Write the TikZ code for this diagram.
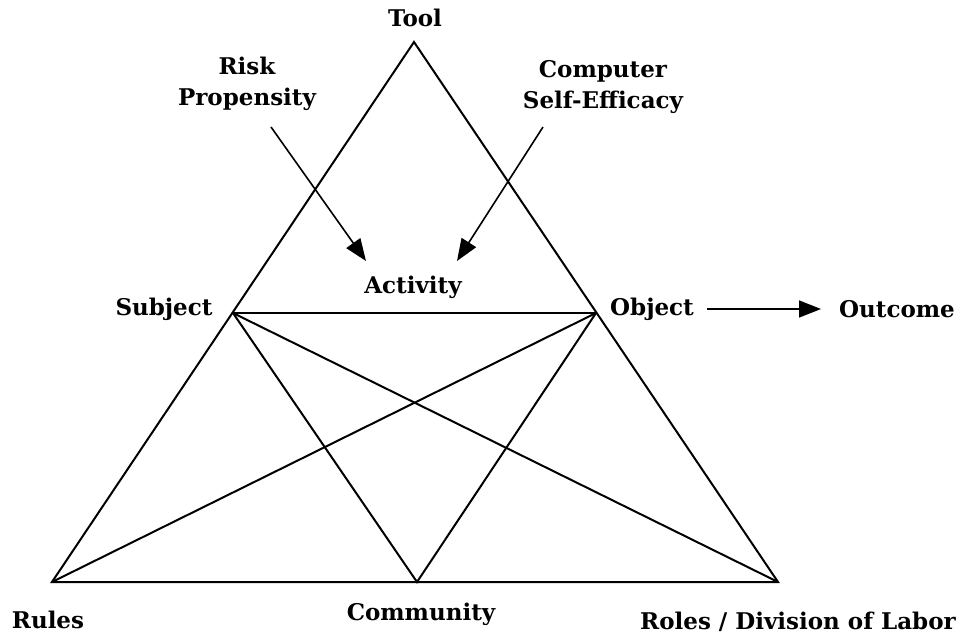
\documentclass[tikz,border=0pt]{standalone}
\usepackage{fontspec}
\setmainfont{DejaVu Serif}
\usetikzlibrary{arrows.meta}
\begin{document}
\begin{tikzpicture}[x=1pt,y=-1pt,
  lbl/.style={font=\bfseries\fontsize{23}{31}\selectfont, inner sep=0pt, align=center},
  edge/.style={line width=2pt, line join=miter},
  arr/.style={line width=1.6pt, -{Triangle[length=22pt,width=17pt]}}]
\useasboundingbox (0,0) rectangle (962,636);
\coordinate (T) at (414,42);
\coordinate (BL) at (52,582);
\coordinate (BR) at (778,582);
\coordinate (S) at (233,313);
\coordinate (O) at (596,313);
\coordinate (C) at (417,582);
\draw[edge] (T) -- (BR) -- (BL) -- cycle;
\draw[edge] (S) -- (O);
\draw[edge] (S) -- (C) -- (O);
\draw[edge] (S) -- (BR);
\draw[edge] (O) -- (BL);
\node[lbl] (tool) at (415,18) {Tool};
\node[lbl] (risk) at (247,84) {Risk\\Propensity};
\node[lbl] (cse) at (603,87) {Computer\\Self-Efficacy};
\node[lbl] (act) at (413,287) {Activity};
\node[lbl] (subj) at (164,309) {Subject};
\node[lbl] (obj) at (652,309) {Object};
\node[lbl] (out) at (897,309) {Outcome};
\node[lbl] (rules) at (48,620) {Rules};
\node[lbl] (comm) at (421,614) {Community};
\node[lbl] (roles) at (798,622) {Roles / Division of Labor};
\coordinate (ra) at (271,127);
\coordinate (rb) at (366,261);
\coordinate (ca) at (543,127);
\coordinate (cb) at (457,261);
\coordinate (oa) at (707,309);
\coordinate (ob) at (821,309);
\draw[arr] (ra) -- (rb);
\draw[arr] (ca) -- (cb);
\draw[arr] (oa) -- (ob);
\end{tikzpicture}
\end{document}
